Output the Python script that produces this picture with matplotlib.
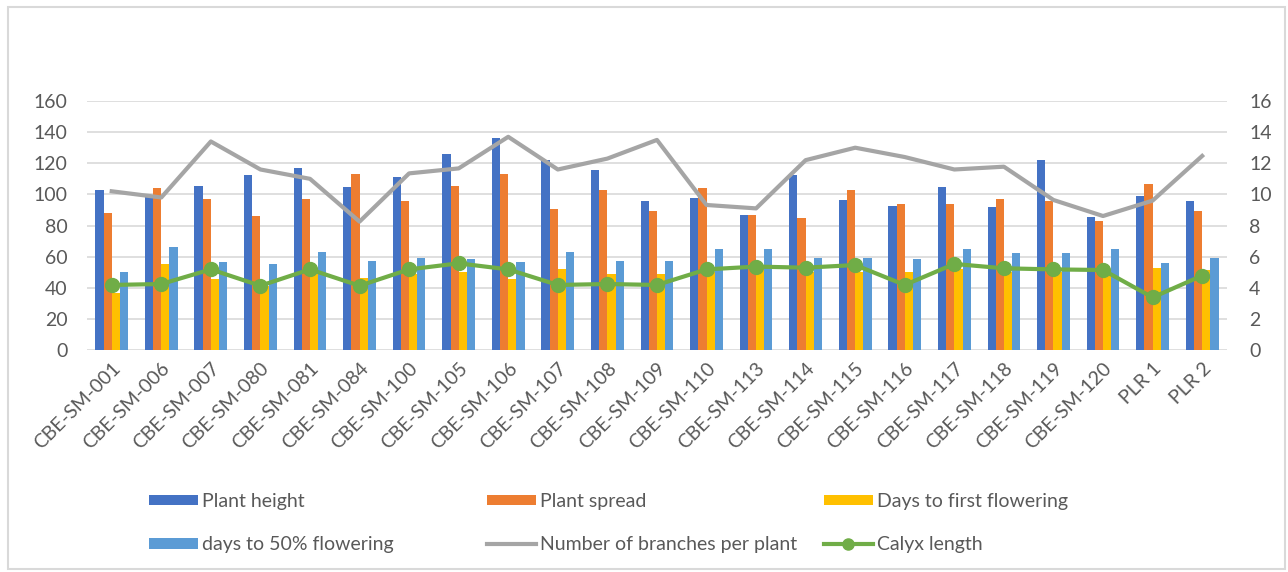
import numpy as np
import matplotlib.pyplot as plt
from matplotlib.patches import Rectangle

genotypes = ['CBE-SM-001', 'CBE-SM-006', 'CBE-SM-007', 'CBE-SM-080', 'CBE-SM-081',
             'CBE-SM-084', 'CBE-SM-100', 'CBE-SM-105', 'CBE-SM-106', 'CBE-SM-107',
             'CBE-SM-108', 'CBE-SM-109', 'CBE-SM-110', 'CBE-SM-113', 'CBE-SM-114',
             'CBE-SM-115', 'CBE-SM-116', 'CBE-SM-117', 'CBE-SM-118', 'CBE-SM-119',
             'CBE-SM-120', 'PLR 1', 'PLR 2']
plant_height = [102.8, 98.1, 105.4, 112.5, 116.7, 104.5, 111.4, 126.0, 136.4, 122.1,
                115.7, 96.0, 97.5, 86.8, 112.5, 96.6, 92.5, 104.5, 91.7, 122.1,
                85.3, 99.0, 95.7]
plant_spread = [87.8, 103.9, 96.8, 86.3, 96.8, 113.1, 95.7, 105.4, 113.1, 90.4,
                102.8, 89.5, 103.9, 86.8, 84.6, 102.8, 93.6, 93.6, 96.8, 96.0,
                82.9, 106.7, 89.3]
days_first_flowering = [36.8, 55.3, 45.6, 41.0, 50.0, 46.5, 48.8, 50.3, 45.6, 51.8,
                        48.8, 48.8, 50.0, 52.0, 50.3, 50.3, 50.3, 52.0, 50.0, 50.0,
                        50.0, 52.5, 51.4]
days_50_flowering = [50.3, 66.4, 56.8, 55.3, 63.2, 57.4, 58.9, 58.3, 56.8, 63.2,
                     57.4, 57.4, 64.7, 64.7, 58.9, 58.9, 58.3, 64.7, 62.1, 62.1,
                     64.7, 55.7, 58.9]
branches = [10.2, 9.8, 13.4, 11.6, 11.0, 8.25, 11.35, 11.67, 13.7, 11.6,
            12.3, 13.5, 9.32, 9.1, 12.2, 13.0, 12.4, 11.6, 11.78, 9.64,
            8.61, 9.6, 12.47]
calyx_length = [4.18, 4.24, 5.18, 4.13, 5.18, 4.13, 5.18, 5.57, 5.18, 4.18,
                4.24, 4.18, 5.18, 5.36, 5.29, 5.46, 4.18, 5.53, 5.25, 5.18,
                5.14, 3.38, 4.78]

plt.rcParams['font.family'] = ['Lato', 'DejaVu Sans']
txt = '#595959'

fig = plt.figure(figsize=(12.88, 5.72), dpi=100)
fig.patches.append(Rectangle((8 / 1288, 3 / 572), 1277 / 1288, 562 / 572,
                             transform=fig.transFigure, fill=False,
                             edgecolor='#d9d9d9', linewidth=1.5))

ax = fig.add_axes([0.0675, 0.3881, 0.8851, 0.4353])
x = np.arange(len(genotypes))
w = 0.165
bars = [
    (plant_height, '#4472C4', 'Plant height'),
    (plant_spread, '#ED7D31', 'Plant spread'),
    (days_first_flowering, '#FFC000', 'Days to first flowering'),
    (days_50_flowering, '#5B9BD5', 'days to 50% flowering'),
]
handles = []
for i, (vals, col, lab) in enumerate(bars):
    b = ax.bar(x + (i - 1.5) * w, vals, w, color=col, label=lab, zorder=2)
    handles.append(b)

ax.set_xlim(-0.5, len(genotypes) - 0.5)
ax.set_ylim(0, 160)
ax.set_yticks(range(0, 161, 20))
ax.yaxis.grid(True, color='#d9d9d9', linewidth=1.2, zorder=0)
ax.set_axisbelow(True)
for s in ax.spines.values():
    s.set_visible(False)
ax.set_xticks(x)
ax.set_xticklabels(genotypes, rotation=45, ha='right', rotation_mode='anchor')
ax.tick_params(axis='x', length=0, pad=7, labelsize=14, labelcolor=txt)
ax.tick_params(axis='y', length=0, pad=14, labelsize=14, labelcolor=txt)

ax2 = ax.twinx()
ax2.set_ylim(0, 16)
ax2.set_yticks(range(0, 17, 2))
for s in ax2.spines.values():
    s.set_visible(False)
ax2.tick_params(axis='y', length=0, pad=16, labelsize=14, labelcolor=txt)
l1, = ax2.plot(x, branches, color='#A5A5A5', linewidth=3, label='Number of branches per plant')
l2, = ax2.plot(x, calyx_length, color='#70AD47', linewidth=3, marker='o',
               markersize=10, label='Calyx length')

cols = [
    ([handles[0], handles[3]], 149),
    ([handles[1], l1], 487),
    ([handles[2], l2], 824),
]
for hs, px in cols:
    leg = fig.legend(handles=hs, labels=[h.get_label() for h in hs],
                     loc='upper left', bbox_to_anchor=(px / 1288, 1 - 493 / 572),
                     frameon=False, borderpad=0, borderaxespad=0, fontsize=14,
                     handlelength=2.5, handleheight=0.45, handletextpad=0.25,
                     labelspacing=1.35, markerscale=0.8, labelcolor=txt)

fig.savefig('out.png', dpi=100)
